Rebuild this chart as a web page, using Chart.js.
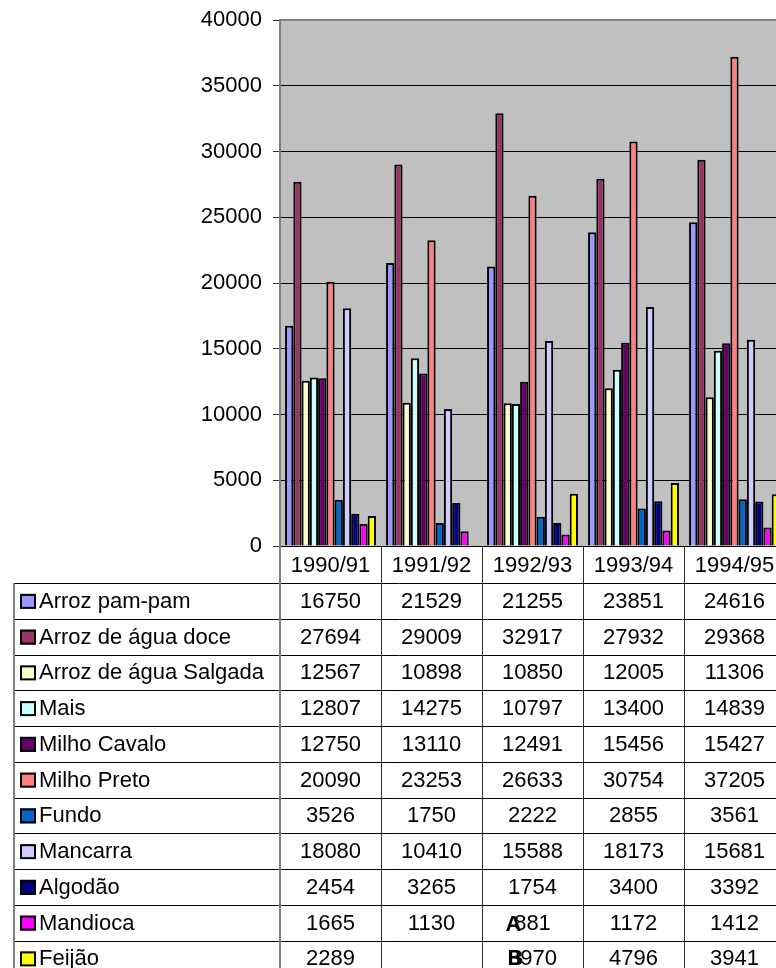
<!DOCTYPE html>
<html>
<head>
<meta charset="utf-8">
<script src="https://cdn.jsdelivr.net/npm/chart.js@4.4.1/dist/chart.umd.min.js"></script>
<style>
  html, body { margin: 0; padding: 0; background: #fff; overflow: hidden; }
  #wrap { position: relative; width: 776px; height: 968px; overflow: hidden; }
  canvas { display: block; }
</style>
</head>
<body>
<div id="wrap"><canvas id="c" width="790" height="968"></canvas></div>
<script>
// ---- data ----
const categories = ['1990/91', '1991/92', '1992/93', '1993/94', '1994/95'];
const seriesNames = ['Arroz pam-pam', 'Arroz de água doce', 'Arroz de água Salgada', 'Mais',
  'Milho Cavalo', 'Milho Preto', 'Fundo', 'Mancarra', 'Algodão', 'Mandioca', 'Feijão'];
const arrozPamPam      = [16750, 21529, 21255, 23851, 24616];
const arrozAguaDoce    = [27694, 29009, 32917, 27932, 29368];
const arrozAguaSalgada = [12567, 10898, 10850, 12005, 11306];
const mais             = [12807, 14275, 10797, 13400, 14839];
const milhoCavalo      = [12750, 13110, 12491, 15456, 15427];
const milhoPreto       = [20090, 23253, 26633, 30754, 37205];
const fundo            = [3526, 1750, 2222, 2855, 3561];
const mancarra         = [18080, 10410, 15588, 18173, 15681];
const algodao          = [2454, 3265, 1754, 3400, 3392];
const mandioca         = [1665, 1130, 881, 1172, 1412];
const feijao           = [2289, null, 3970, 4796, 3941];
const yTickValues      = [0, 5000, 10000, 15000, 20000, 25000, 30000, 35000, 40000];
const yTickLabels      = ['0', '5000', '10000', '15000', '20000', '25000', '30000', '35000', '40000'];

const seriesValues = [arrozPamPam, arrozAguaDoce, arrozAguaSalgada, mais, milhoCavalo,
  milhoPreto, fundo, mancarra, algodao, mandioca, feijao];
const seriesColors = ['#9999FF', '#993366', '#FFFFCC', '#CCFFFF', '#660066', '#FF8080',
  '#0066CC', '#CCCCFF', '#000080', '#FF00FF', '#FFFF00'];

const FONT = "'Liberation Sans', Arial, sans-serif";
Chart.defaults.font.family = FONT;
Chart.defaults.color = '#000';

const datasets = seriesNames.map((name, i) => ({
  label: name,
  data: seriesValues[i],
  backgroundColor: seriesColors[i],
  borderColor: '#000',
  borderWidth: 2,
  categoryPercentage: 0.9,
  barPercentage: 1.0
}));

const plotBg = {
  id: 'plotBg',
  beforeDraw(chart) {
    const { ctx, chartArea: a } = chart;
    ctx.save();
    ctx.fillStyle = '#C0C0C0';
    ctx.fillRect(a.left, a.top, a.right - a.left, a.bottom - a.top);
    ctx.restore();
  },
  afterDatasetsDraw(chart) {
    const { ctx, chartArea: a } = chart;
    ctx.save();
    ctx.strokeStyle = '#808080';
    ctx.lineWidth = 2;
    ctx.beginPath();
    ctx.moveTo(a.left, a.top);
    ctx.lineTo(a.right, a.top);
    ctx.lineTo(a.right, a.bottom);
    ctx.stroke();
    ctx.restore();
  }
};

const dataTable = {
  id: 'dataTable',
  afterDraw(chart) {
    const { ctx, chartArea: a } = chart;
    const xs = chart.scales.x;
    const step = xs.getPixelForValue(1) - xs.getPixelForValue(0);
    const half = step / 2;
    const headTop = a.bottom, headH = 37, rowH = 35.75;
    const bodyTop = headTop + headH;
    const nRows = seriesNames.length;
    const bottom = bodyTop + rowH * nRows;
    const leftX = 14;
    const rightX = xs.getPixelForValue(categories.length - 1) + half;

    ctx.save();
    ctx.strokeStyle = '#000';
    ctx.lineWidth = 1;
    for (let r = 0; r <= nRows; r++) {
      const y = Math.round(bodyTop + r * rowH) + 0.5;
      ctx.beginPath();
      ctx.moveTo(leftX, y);
      ctx.lineTo(rightX, y);
      ctx.stroke();
    }
    ctx.strokeStyle = '#808080';
    ctx.lineWidth = 2;
    ctx.beginPath();
    ctx.moveTo(leftX, bodyTop); ctx.lineTo(leftX, bottom);
    ctx.moveTo(a.left, headTop); ctx.lineTo(a.left, bottom);
    ctx.stroke();
    ctx.strokeStyle = '#333';
    ctx.lineWidth = 1;
    for (let i = 0; i < categories.length; i++) {
      const x = Math.round(xs.getPixelForValue(i) + half) + 0.5;
      ctx.beginPath();
      ctx.moveTo(x, headTop); ctx.lineTo(x, bottom);
      ctx.stroke();
    }

    ctx.fillStyle = '#000';
    ctx.font = '22px ' + FONT;
    ctx.textAlign = 'center';
    ctx.textBaseline = 'middle';
    categories.forEach((c, i) => {
      ctx.fillText(c, xs.getPixelForValue(i), headTop + headH / 2 + 1);
    });

    for (let r = 0; r < nRows; r++) {
      const cy = bodyTop + r * rowH + rowH / 2 + 1;
      ctx.fillStyle = seriesColors[r];
      ctx.fillRect(20, cy - 8, 16, 15);
      ctx.strokeStyle = '#000';
      ctx.lineWidth = 2;
      ctx.strokeRect(21, cy - 7, 14, 13);
      ctx.fillStyle = '#000';
      ctx.textAlign = 'left';
      ctx.fillText(seriesNames[r], 39, cy);
      ctx.textAlign = 'center';
      seriesValues[r].forEach((v, i) => {
        if (v !== null && v !== undefined) {
          ctx.fillText(String(v), xs.getPixelForValue(i), cy);
        }
      });
    }
    // stray overlapping glyphs in the 1992/93 column (as in the original)
    ctx.font = 'bold 22px ' + FONT;
    ctx.textAlign = 'left';
    const cx = xs.getPixelForValue(2);
    ctx.fillText('A', cx - 27, bodyTop + 9 * rowH + rowH / 2 + 2);
    ctx.fillText('B', cx - 25, bodyTop + 10 * rowH + rowH / 2 + 1);
    ctx.restore();
  }
};

new Chart(document.getElementById('c'), {
  type: 'bar',
  data: { labels: categories, datasets },
  options: {
    responsive: false,
    animation: false,
    devicePixelRatio: 1,
    layout: { padding: { left: 0, right: 5, top: 20, bottom: 422 } },
    plugins: { legend: { display: false }, tooltip: { enabled: false } },
    scales: {
      x: {
        grid: { display: false, drawTicks: false },
        ticks: { display: false },
        border: { display: true, color: '#000', width: 1 },
        afterFit(s) { s.height = 0; s.paddingLeft = 0; s.paddingRight = 0; }
      },
      y: {
        min: yTickValues[0],
        max: yTickValues[yTickValues.length - 1],
        afterBuildTicks(s) { s.ticks = yTickValues.map(v => ({ value: v })); },
        ticks: {
          font: { size: 22, family: FONT },
          color: '#000',
          padding: 11,
          callback: (v) => yTickLabels[yTickValues.indexOf(v)]
        },
        grid: {
          color: (c) => (c.tick && c.tick.value === 40000) ? '#808080' : '#000',
          lineWidth: 1,
          tickLength: 7,
          tickColor: '#333'
        },
        border: { display: true, color: '#808080', width: 2 },
        afterFit(s) { s.width = 280; s.paddingTop = 0; s.paddingBottom = 0; }
      }
    }
  },
  plugins: [plotBg, dataTable]
});
</script>
</body>
</html>
